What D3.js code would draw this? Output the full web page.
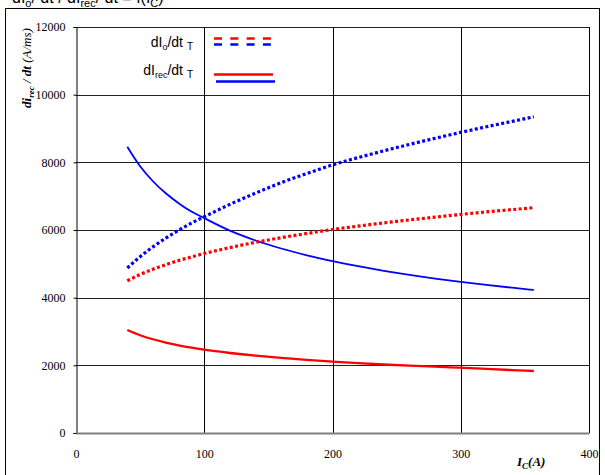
<!DOCTYPE html>
<html>
<head>
<meta charset="utf-8">
<script src="https://cdn.jsdelivr.net/npm/d3@7"></script>
<style>
  body { margin: 0; background: #fff; }
  svg { display: block; }
</style>
</head>
<body>
<div id="viz"></div>
<script>
// collector current I_C (A)
var ic = [40, 50, 60, 70, 80, 90, 100, 120, 140, 160, 180, 200, 220, 240, 260, 280, 300, 320, 340, 357];

// dIo/dt T (dotted)
var dIoRed  = [4500, 4684, 4840, 4975, 5096, 5204, 5305, 5480, 5635, 5772, 5897, 6015, 6115, 6210, 6298, 6380, 6460, 6533, 6603, 6660];
var dIoBlue = [4877, 5211, 5501, 5759, 5992, 6205, 6390, 6758, 7090, 7400, 7670, 7925, 8140, 8340, 8530, 8710, 8885, 9050, 9210, 9345];

// dIrec/dt T (solid)
var dIrecRed  = [3044, 2890, 2771, 2674, 2592, 2522, 2462, 2365, 2285, 2218, 2160, 2108, 2064, 2025, 1990, 1960, 1935, 1895, 1860, 1832];
var dIrecBlue = [8462, 7884, 7441, 7086, 6793, 6544, 6350, 5980, 5690, 5453, 5253, 5081, 4929, 4795, 4675, 4566, 4468, 4377, 4294, 4228];

var xTicks = [0, 100, 200, 300, 400];
var yTicks = [0, 2000, 4000, 6000, 8000, 10000, 12000];

var W = 605, H = 475;
var svg = d3.select("#viz").append("svg").attr("width", W).attr("height", H);

// outer frame (chart area border)
svg.append("rect")
    .attr("x", 5.5).attr("y", 8.5).attr("width", 594).attr("height", 480)
    .style("fill", "none").style("stroke", "#000").style("stroke-width", 1);

// title cut off at the top
var title = svg.append("text").attr("x", 12).attr("y", 3)
    .style("font-family", "Liberation Sans, Arial, sans-serif").style("font-size", "16px");
title.append("tspan").text("dI");
title.append("tspan").attr("dy", 4).style("font-size", "11px").text("o");
title.append("tspan").attr("dy", -4).text("/ dt / dI");
title.append("tspan").attr("dy", 4).style("font-size", "11px").text("rec");
title.append("tspan").attr("dy", -4).text("/ dt = f(I");
title.append("tspan").attr("dy", 4).style("font-size", "11px").text("C");
title.append("tspan").attr("dy", -4).text(")");

var x = d3.scaleLinear().domain([0, 400]).range([76, 589]);
var y = d3.scaleLinear().domain([0, 12000]).range([433, 27]);

// grid
svg.append("g").selectAll("line").data(yTicks.slice(1)).enter().append("line")
    .attr("x1", x(0)).attr("x2", x(400))
    .attr("y1", function(d){ return Math.round(y(d)) + 0.5; })
    .attr("y2", function(d){ return Math.round(y(d)) + 0.5; })
    .style("stroke", "#222").style("stroke-width", 1);
svg.append("g").selectAll("line").data(xTicks.slice(1)).enter().append("line")
    .attr("y1", y(0)).attr("y2", y(12000))
    .attr("x1", function(d){ return Math.round(x(d)) + 0.5; })
    .attr("x2", function(d){ return Math.round(x(d)) + 0.5; })
    .style("stroke", "#000").style("stroke-width", 1);

// axes
var yAxis = svg.append("g").attr("transform", "translate(" + (x(0) + 0.5) + ",0)")
    .call(d3.axisLeft(y).tickValues(yTicks).tickSize(3).tickPadding(8).tickFormat(d3.format("d")));
yAxis.select(".domain").style("stroke", "#000");
yAxis.selectAll("text").style("font-family", "Liberation Serif, Times New Roman, serif").style("font-size", "12px").style("fill", "#000");

var xAxis = svg.append("g").attr("transform", "translate(0," + y(0) + ")")
    .call(d3.axisBottom(x).tickValues(xTicks).tickSize(0).tickPadding(16).tickFormat(d3.format("d")));
xAxis.select(".domain").style("stroke", "#808080").style("stroke-width", 2);
xAxis.selectAll("text").style("font-family", "Liberation Serif, Times New Roman, serif").style("font-size", "12px").style("fill", "#000");

// curves
var line = d3.line().curve(d3.curveMonotoneX)
    .x(function(d){ return x(d[0]); })
    .y(function(d){ return y(d[1]); });

function draw(vals, color, width, dash) {
    svg.append("path").datum(d3.zip(ic, vals))
        .attr("d", line)
        .style("fill", "none").style("stroke", color)
        .style("stroke-width", width)
        .style("stroke-dasharray", dash);
}
draw(dIrecRed, "#ff0000", 2.3, null);
draw(dIrecBlue, "#0000ff", 1.8, null);
draw(dIoRed, "#ff0000", 3.2, "3,2.4");
draw(dIoBlue, "#0000ff", 3.2, "3,2.4");

// legend
var lgFont = "Liberation Sans, Arial, sans-serif";
var l1 = svg.append("text").attr("x", 193).attr("y", 47).attr("text-anchor", "end")
    .style("font-family", lgFont).style("font-size", "14px");
l1.append("tspan").text("dI");
l1.append("tspan").attr("dy", 3).style("font-size", "9px").text("o");
l1.append("tspan").attr("dy", -3).text("/dt ");
l1.append("tspan").attr("dy", 3).style("font-size", "10px").text("T");

var l2 = svg.append("text").attr("x", 193).attr("y", 75).attr("text-anchor", "end")
    .style("font-family", lgFont).style("font-size", "14px");
l2.append("tspan").text("dI");
l2.append("tspan").attr("dy", 3).style("font-size", "9px").text("rec");
l2.append("tspan").attr("dy", -3).text("/dt ");
l2.append("tspan").attr("dy", 3).style("font-size", "10px").text("T");

function legendLine(x1, x2, yy, color, dash) {
    svg.append("line").attr("x1", x1).attr("x2", x2).attr("y1", yy).attr("y2", yy)
        .style("stroke", color).style("stroke-width", 2.5).style("stroke-dasharray", dash);
}
legendLine(214, 273, 38.5, "#ff0000", "8,8.3");
legendLine(214, 273, 44.5, "#0000ff", "8,8.3");
legendLine(214, 273, 74.5, "#ff0000", null);
legendLine(216, 275, 81.5, "#0000ff", null);

// axis titles
var yt = svg.append("text")
    .attr("transform", "translate(31,68) rotate(-90)")
    .attr("text-anchor", "middle")
    .style("font-family", "Liberation Serif, Times New Roman, serif")
    .style("font-size", "13px").style("font-style", "italic").style("font-weight", "bold");
yt.append("tspan").text("di");
yt.append("tspan").attr("dy", 3).style("font-size", "9px").text("rec");
yt.append("tspan").attr("dy", -3).text(" / dt ");
yt.append("tspan").style("font-weight", "normal").text("(A/ms)");

var xt = svg.append("text").attr("x", 517).attr("y", 466)
    .style("font-family", "Liberation Serif, Times New Roman, serif")
    .style("font-size", "13px").style("font-style", "italic").style("font-weight", "bold");
xt.append("tspan").text("I");
xt.append("tspan").attr("dy", 3).style("font-size", "9px").text("C");
xt.append("tspan").attr("dy", -3).text("(A)");
</script>
</body>
</html>
